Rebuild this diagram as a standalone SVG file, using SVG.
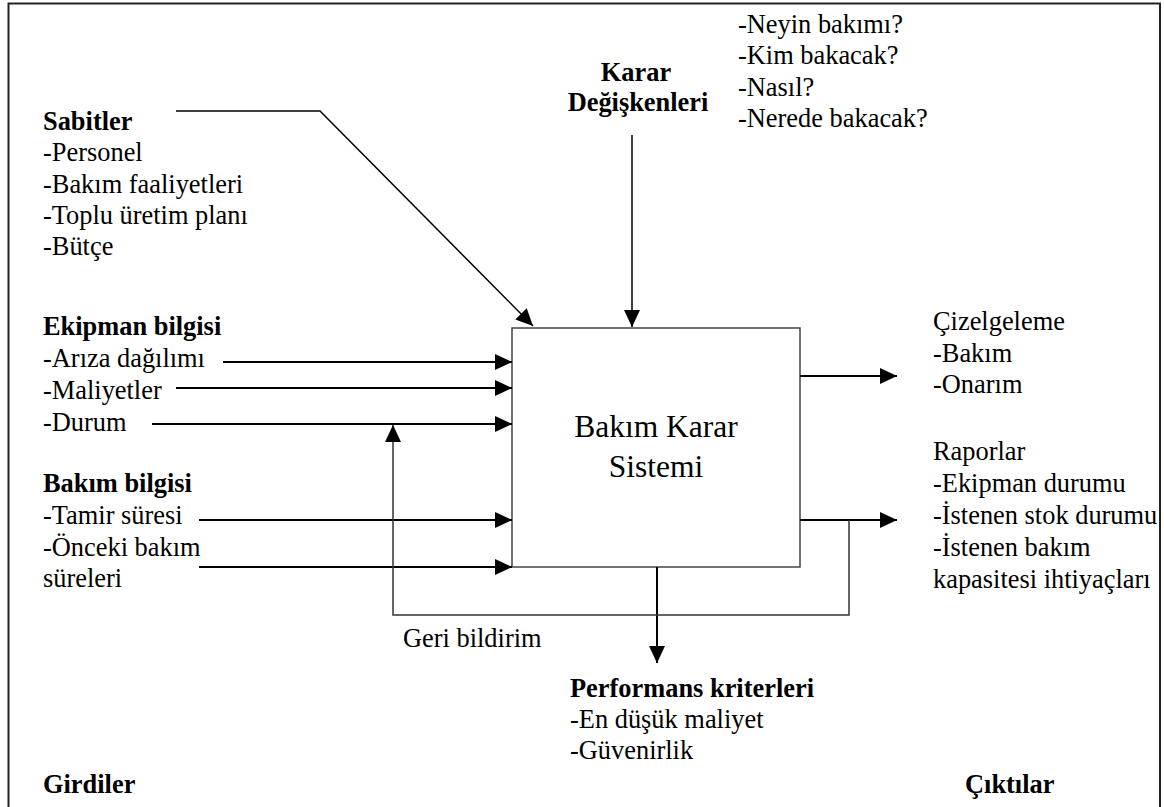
<svg xmlns="http://www.w3.org/2000/svg" width="1164" height="807" viewBox="0 0 1164 807" font-family="Liberation Serif">
<defs>
<marker id="ah" markerUnits="userSpaceOnUse" markerWidth="18" markerHeight="16" refX="17" refY="8" orient="auto">
<path d="M0,0 L17,8 L0,16 Z" fill="#000"/>
</marker>
</defs>
<rect width="1164" height="807" fill="#fff"/>
<path d="M8.5,810 V3.5 H1160 V810" fill="none" stroke="#222" stroke-width="2"/>

<g id="process">
<rect x="512" y="328" width="288" height="239" fill="#fff" stroke="#444" stroke-width="1.5"/>
<text style="font-family:'Liberation Serif',serif" font-size="31.5" x="656" y="437" text-anchor="middle">Bakım Karar</text>
<text style="font-family:'Liberation Serif',serif" font-size="31.5" x="656" y="477" text-anchor="middle">Sistemi</text>
</g>

<g id="sabitler">
<text style="font-family:'Liberation Serif',serif" font-size="26.4" font-weight="bold" x="43" y="130">Sabitler</text>
<text style="font-family:'Liberation Serif',serif" font-size="26.4" x="43" y="161">-Personel</text>
<text style="font-family:'Liberation Serif',serif" font-size="26.4" x="43" y="193">-Bakım faaliyetleri</text>
<text style="font-family:'Liberation Serif',serif" font-size="26.4" x="43" y="224">-Toplu üretim planı</text>
<text style="font-family:'Liberation Serif',serif" font-size="26.4" x="43" y="255">-Bütçe</text>
</g>

<g id="karar">
<text style="font-family:'Liberation Serif',serif" font-size="26.4" font-weight="bold" x="636" y="81" text-anchor="middle">Karar</text>
<text style="font-family:'Liberation Serif',serif" font-size="26.4" font-weight="bold" x="638" y="111" text-anchor="middle">Değişkenleri</text>
</g>

<g id="sorular">
<text style="font-family:'Liberation Serif',serif" font-size="26.4" x="738" y="33">-Neyin bakımı?</text>
<text style="font-family:'Liberation Serif',serif" font-size="26.4" x="738" y="64">-Kim bakacak?</text>
<text style="font-family:'Liberation Serif',serif" font-size="26.4" x="738" y="96">-Nasıl?</text>
<text style="font-family:'Liberation Serif',serif" font-size="26.4" x="738" y="127">-Nerede bakacak?</text>
</g>

<g id="ekipman">
<text style="font-family:'Liberation Serif',serif" font-size="26.4" font-weight="bold" x="43" y="335">Ekipman bilgisi</text>
<text style="font-family:'Liberation Serif',serif" font-size="26.4" x="43" y="367">-Arıza dağılımı</text>
<text style="font-family:'Liberation Serif',serif" font-size="26.4" x="43" y="399">-Maliyetler</text>
<text style="font-family:'Liberation Serif',serif" font-size="26.4" x="43" y="431">-Durum</text>
</g>

<g id="bakim">
<text style="font-family:'Liberation Serif',serif" font-size="26.4" font-weight="bold" x="43" y="492">Bakım bilgisi</text>
<text style="font-family:'Liberation Serif',serif" font-size="26.4" x="43" y="524">-Tamir süresi</text>
<text style="font-family:'Liberation Serif',serif" font-size="26.4" x="43" y="556">-Önceki bakım</text>
<text style="font-family:'Liberation Serif',serif" font-size="26.4" x="43" y="587">süreleri</text>
</g>

<g id="cizelgeleme">
<text style="font-family:'Liberation Serif',serif" font-size="26.4" x="933" y="330">Çizelgeleme</text>
<text style="font-family:'Liberation Serif',serif" font-size="26.4" x="933" y="362">-Bakım</text>
<text style="font-family:'Liberation Serif',serif" font-size="26.4" x="933" y="393">-Onarım</text>
</g>

<g id="raporlar">
<text style="font-family:'Liberation Serif',serif" font-size="26.4" x="933" y="460">Raporlar</text>
<text style="font-family:'Liberation Serif',serif" font-size="26.4" x="933" y="492">-Ekipman durumu</text>
<text style="font-family:'Liberation Serif',serif" font-size="26.4" x="933" y="524">-İstenen stok durumu</text>
<text style="font-family:'Liberation Serif',serif" font-size="26.4" x="933" y="556">-İstenen bakım</text>
<text style="font-family:'Liberation Serif',serif" font-size="26.4" x="933" y="588">kapasitesi ihtiyaçları</text>
</g>

<g id="geribildirim">
<text style="font-family:'Liberation Serif',serif" font-size="26.4" x="403" y="647">Geri bildirim</text>
</g>

<g id="performans">
<text style="font-family:'Liberation Serif',serif" font-size="26.4" font-weight="bold" x="570" y="697">Performans kriterleri</text>
<text style="font-family:'Liberation Serif',serif" font-size="26.4" x="570" y="728">-En düşük maliyet</text>
<text style="font-family:'Liberation Serif',serif" font-size="26.4" x="570" y="759">-Güvenirlik</text>
</g>

<g id="girdiler"><text style="font-family:'Liberation Serif',serif" font-size="26.4" font-weight="bold" x="43" y="793">Girdiler</text></g>
<g id="ciktilar"><text style="font-family:'Liberation Serif',serif" font-size="26.4" font-weight="bold" x="965" y="793">Çıktılar</text></g>

<g id="connectors" fill="none">
<path d="M176,111 H320 L533,326" stroke="#000" stroke-width="1.5" marker-end="url(#ah)"/>
<path d="M632,135 V327" stroke="#000" stroke-width="1.5" marker-end="url(#ah)"/>
<path d="M223,362 H512" stroke="#000" stroke-width="2" marker-end="url(#ah)"/>
<path d="M176,388 H512" stroke="#000" stroke-width="2" marker-end="url(#ah)"/>
<path d="M152,424 H512" stroke="#000" stroke-width="2" marker-end="url(#ah)"/>
<path d="M199,520 H512" stroke="#000" stroke-width="2" marker-end="url(#ah)"/>
<path d="M199,567 H512" stroke="#000" stroke-width="2" marker-end="url(#ah)"/>
<path d="M800,376 H897" stroke="#000" stroke-width="2" marker-end="url(#ah)"/>
<path d="M800,520 H897" stroke="#000" stroke-width="2" marker-end="url(#ah)"/>
<path d="M657,567 V663" stroke="#000" stroke-width="2" marker-end="url(#ah)"/>
<path d="M849,520 V615 H393 V425" stroke="#333" stroke-width="1.5" marker-end="url(#ah)"/>
</g>
</svg>
